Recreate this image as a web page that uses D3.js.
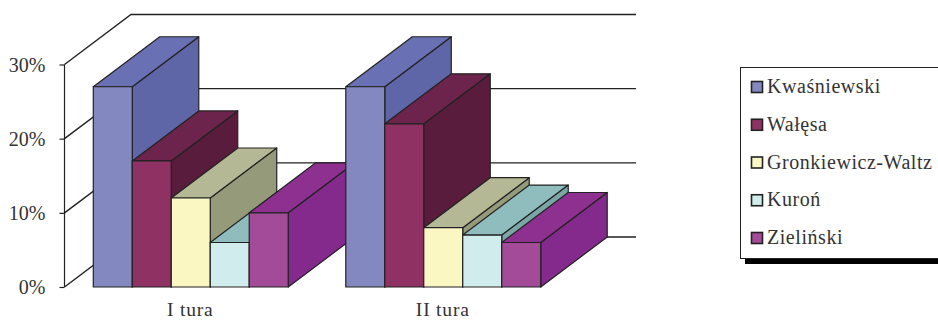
<!DOCTYPE html>
<html>
<head>
<meta charset="utf-8">
<script src="https://cdn.jsdelivr.net/npm/d3@7/dist/d3.min.js"></script>
<style>
html, body { margin: 0; padding: 0; background: #fff; overflow: hidden; }
svg { display: block; }
text { font-family: "Liberation Serif", serif; fill: #333; }
</style>
</head>
<body>
<svg id="chart" width="938" height="320"></svg>
<script>
// Presidential election results, two rounds, as a 3D clustered column chart
const rounds = ["I tura", "II tura"];
const candidates = ["Kwaśniewski", "Wałęsa", "Gronkiewicz-Waltz", "Kuroń", "Zieliński"];
const firstRound = [27, 17, 12, 6, 10];
const secondRound = [27, 22, 8, 7, 6];
const roundValues = [firstRound, secondRound];
const yTicks = [0, 10, 20, 30];

const frontColors = ["#8488c0", "#8f3163", "#fbf7c3", "#d0ecec", "#a34a99"];
const topColors = ["#6a70b4", "#6c244c", "#b5b894", "#8fbcbc", "#8e3090"];
const sideColors = ["#5e66a8", "#5a1c3c", "#949a7a", "#7aa6a6", "#842a8c"];

const left = 64.5, right = 569.5, depthX = 66.5, depthY = 50;
const svg = d3.select("#chart");
const ink = "#222";

const y = d3.scaleLinear().domain([0, 30]).range([287, 64.5]);
const x0 = d3.scaleBand().domain(rounds).range([left, right]).paddingInner(0.228).paddingOuter(0.114);
const x1 = d3.scaleBand().domain(candidates).range([0, x0.bandwidth()]);

// Walls: gridlines on the back plane, joined to the front axis by diagonals
const wall = svg.append("g").attr("fill", "none").attr("stroke", ink);
wall.selectAll("path").data(yTicks).join("path")
  .attr("stroke-width", 1.4)
  .attr("d", d => `M${left},${y(d)}L${left + depthX},${y(d) - depthY}L${right + depthX},${y(d) - depthY}`);

// Front value axis
const axis = svg.append("g")
  .attr("transform", `translate(${left},0)`)
  .call(d3.axisLeft(y).tickValues(yTicks).tickFormat(d => d + "%").tickSize(5).tickPadding(14));
axis.select(".domain").attr("stroke", ink).attr("stroke-width", 1.2).attr("d", `M0,${y(30)}V${y(0)}`);
axis.selectAll(".tick line").attr("stroke", ink).attr("stroke-width", 1.2);
axis.selectAll(".tick text").attr("font-size", 20).attr("font-family", "Liberation Serif").attr("fill", "#333").attr("dy", "0.33em");

// Columns: each one is a front, a top and a side face, painted left to right
rounds.forEach((round, r) => {
  const group = svg.append("g").attr("stroke", ink).attr("stroke-width", 1.2).attr("stroke-linejoin", "round");
  candidates.forEach((name, i) => {
    const xa = x0(round) + x1(name), xb = xa + x1.bandwidth();
    const yt = y(roundValues[r][i]), yb = y(0);
    const bar = group.append("g");
    bar.append("path").attr("fill", sideColors[i])
      .attr("d", `M${xb},${yt}L${xb + depthX},${yt - depthY}V${yb - depthY}L${xb},${yb}Z`);
    bar.append("path").attr("fill", topColors[i])
      .attr("d", `M${xa},${yt}L${xa + depthX},${yt - depthY}H${xb + depthX}L${xb},${yt}Z`);
    bar.append("rect").attr("fill", frontColors[i])
      .attr("x", xa).attr("y", yt).attr("width", xb - xa).attr("height", yb - yt);
  });
  svg.append("text")
    .attr("x", x0(round) + x0.bandwidth() / 2 - 0.5).attr("y", 316)
    .attr("text-anchor", "middle").attr("font-size", 19.5).attr("letter-spacing", 0.8).text(round);
});

// Legend box with its heavy drop shadow, running off the right edge
svg.append("rect").attr("x", 745).attr("y", 258).attr("width", 193).attr("height", 6).attr("fill", "#000");
svg.append("rect").attr("x", 740.5).attr("y", 67.5).attr("width", 200).attr("height", 191)
  .attr("fill", "#fff").attr("stroke", ink).attr("stroke-width", 1);

const legendY = d3.scalePoint().domain(candidates).range([87, 238]);
const entry = svg.selectAll(".entry").data(candidates).join("g").attr("class", "entry")
  .attr("transform", d => `translate(751,${legendY(d)})`);
entry.append("rect").attr("x", 0.5).attr("y", -5.5).attr("width", 11).attr("height", 11)
  .attr("fill", (d, i) => frontColors[i]).attr("stroke", ink).attr("stroke-width", 1.6);
entry.append("text").attr("x", 16).attr("y", 6).attr("font-size", 20).attr("letter-spacing", 0.55).text(d => d);
</script>
</body>
</html>
